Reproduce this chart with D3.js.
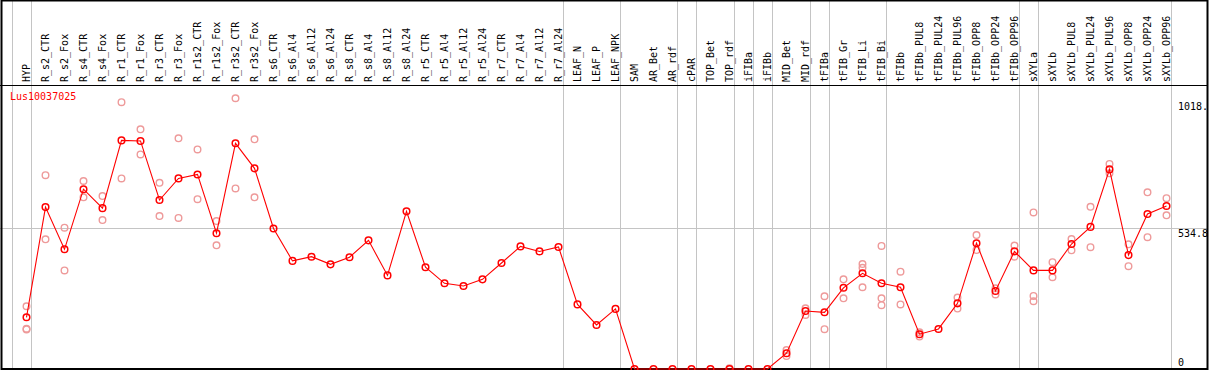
<!DOCTYPE html>
<html>
<head>
<meta charset="utf-8">
<script src="https://cdn.jsdelivr.net/npm/d3@7"></script>
<style>
  html, body { margin: 0; padding: 0; background: #fff; }
  svg { display: block; }
  text { font-family: "DejaVu Sans Mono", monospace; font-size: 10px; }
</style>
</head>
<body>
<svg id="chart"></svg>
<script>
const categories = [
  "HYP", "R_s2_CTR", "R_s2_Fox", "R_s4_CTR", "R_s4_Fox", "R_r1_CTR", "R_r1_Fox",
  "R_r3_CTR", "R_r3_Fox", "R_r1s2_CTR", "R_r1s2_Fox", "R_r3s2_CTR", "R_r3s2_Fox",
  "R_s6_CTR", "R_s6_Al4", "R_s6_Al12", "R_s6_Al24", "R_s8_CTR", "R_s8_Al4",
  "R_s8_Al12", "R_s8_Al24", "R_r5_CTR", "R_r5_Al4", "R_r5_Al12", "R_r5_Al24",
  "R_r7_CTR", "R_r7_Al4", "R_r7_Al12", "R_r7_Al24", "LEAF_N", "LEAF_P", "LEAF_NPK",
  "SAM", "AR_Bet", "AR_rdf", "cPAR", "TOP_Bet", "TOP_rdf", "iFIBa", "iFIBb",
  "MID_Bet", "MID_rdf", "tFIBa", "tFIB_Gr", "tFIB_Li", "tFIB_Bi", "tFIBb",
  "tFIBb_PUL8", "tFIBb_PUL24", "tFIBb_PUL96", "tFIBb_OPP8", "tFIBb_OPP24", "tFIBb_OPP96",
  "sXYLa", "sXYLb", "sXYLb_PUL8", "sXYLb_PUL24", "sXYLb_PUL96", "sXYLb_OPP8",
  "sXYLb_OPP24", "sXYLb_OPP96"
]

// mean expression per sample
const means = [
  196, 614, 454, 682, 610, 867, 865, 641, 723, 738, 515, 856, 761,
  533, 410, 426, 397, 424, 488, 355, 598, 386, 325, 315, 340,
  402, 465, 446, 463, 245, 167, 228,
  0, 0, 0, 0, 0, 0, 0, 0,
  60, 220, 215, 308, 363, 325, 310,
  132, 152, 249, 477, 296, 446,
  374, 374, 474, 539, 757, 432, 588, 618
]

// individual replicates (only where they show apart from the mean)
const replicates = [
  [238, 153, 150], [735, 492], [536, 374], [713, 651], [656, 565], [1012, 723], [909, 814],
  [706, 580], [875, 573], [833, 644], [561, 469], [1027, 685], [871, 651],
  [], [], [], [], [], [], [], [], [], [], [], [],
  [], [], [], [], [], [], [],
  [], [], [], [], [], [3], [], [],
  [72, 49], [230, 205], [276, 151], [340, 268], [398, 384, 310], [467, 268, 242], [369, 245],
  [139, 123], [], [271, 229], [508, 451], [306, 283], [468, 426],
  [594, 277, 257], [405, 348], [493, 450], [615, 462], [778, 742], [473, 390], [670, 500], [648, 583]
]

// samples followed by a grey divider
const groupEnds = [
  "HYP", "R_r7_Al24", "LEAF_NPK", "AR_rdf", "cPAR", "TOP_rdf", "iFIBa", "iFIBb",
  "MID_rdf", "tFIBa", "tFIB_Bi", "tFIBb_OPP96", "sXYLa", "sXYLb_OPP96"
]

const yTicks = [1018, 534.8, 0]
const yTickLabels = ["1018.", "534.8", "0"]
const geneName = "Lus10037025"

const width = 1209
const height = 370

const svg = d3.select("#chart")
  .attr("width", width)
  .attr("height", height)

const x = d3.scaleLinear()
  .domain([0, categories.length - 1])
  .range([26.5, 1166.5])

const y = d3.scaleLinear()
  .domain([0, 1069.6])
  .range([369, 87])

const grid = svg.append("g")
  .attr("stroke", "#c4c4c4")
  .attr("stroke-width", 1)

// vertical dividers, first one sits before HYP
const dividerX = [-1].concat(groupEnds.map(c => categories.indexOf(c)))
grid.selectAll("line.v")
  .data(dividerX)
  .join("line")
  .attr("class", "v")
  .attr("x1", i => Math.round(x(i) + 4) + 0.5)
  .attr("x2", i => Math.round(x(i) + 4) + 0.5)
  .attr("y1", 0)
  .attr("y2", 369)

grid.append("line")
  .attr("x1", 0)
  .attr("x2", 1208)
  .attr("y1", Math.round(y(534.8)) + 0.5)
  .attr("y2", Math.round(y(534.8)) + 0.5)

// frame and header rule
svg.append("rect")
  .attr("x", 1.5)
  .attr("y", 0.5)
  .attr("width", 1206)
  .attr("height", 368.5)
  .attr("fill", "none")
  .attr("stroke", "#000")
  .attr("stroke-width", 2)

svg.append("line")
  .attr("x1", 0)
  .attr("x2", 1208)
  .attr("y1", 85.5)
  .attr("y2", 85.5)
  .attr("stroke", "#000")

// sample labels
svg.append("g")
  .selectAll("text")
  .data(categories)
  .join("text")
  .attr("transform", (d, i) => `translate(${x(i) + 3.5},82) rotate(-90)`)
  .attr("fill", "#000")
  .text(d => d)

svg.append("text")
  .attr("x", 10)
  .attr("y", 100)
  .attr("fill", "#ff0000")
  .text(geneName)

// y labels on the right, clipped at the frame
svg.append("clipPath")
  .attr("id", "clip")
  .append("rect")
  .attr("x", 1171)
  .attr("y", 86)
  .attr("width", 36)
  .attr("height", 283)

svg.append("g")
  .attr("clip-path", "url(#clip)")
  .selectAll("text")
  .data(yTicks)
  .join("text")
  .attr("x", 1178)
  .attr("y", d => Math.min(y(d) + 9, 366))
  .attr("fill", "#000")
  .text((d, i) => yTickLabels[i])

// replicate points
const repPoints = replicates.flatMap((r, i) => r.map(v => ({ i, v })))
svg.append("g")
  .selectAll("circle")
  .data(repPoints)
  .join("circle")
  .attr("cx", d => x(d.i))
  .attr("cy", d => y(d.v))
  .attr("r", 3.3)
  .attr("fill", "none")
  .attr("stroke", "#ee9a9a")
  .attr("stroke-width", 1.4)

// mean line
const line = d3.line()
  .x((d, i) => x(i))
  .y(d => y(d))

svg.append("path")
  .datum(means)
  .attr("d", line)
  .attr("fill", "none")
  .attr("stroke", "#ff0000")
  .attr("stroke-width", 1.1)

svg.append("g")
  .selectAll("circle")
  .data(means)
  .join("circle")
  .attr("cx", (d, i) => x(i))
  .attr("cy", d => y(d))
  .attr("r", 3.3)
  .attr("fill", "none")
  .attr("stroke", "#ff0000")
  .attr("stroke-width", 1.5)
</script>
</body>
</html>
